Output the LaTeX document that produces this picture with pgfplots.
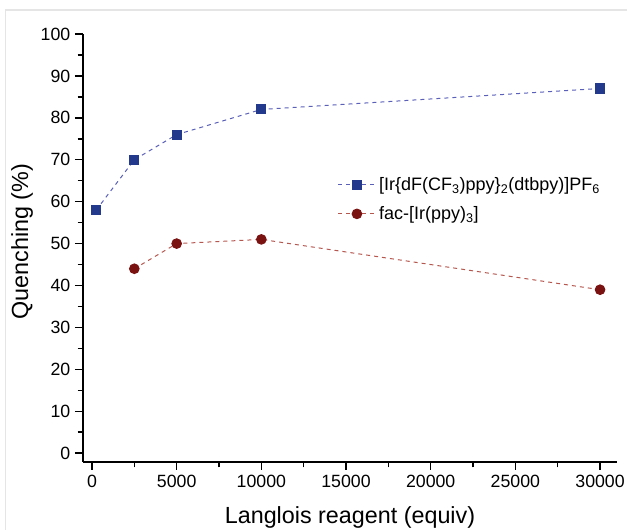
\documentclass[border=0pt]{standalone}
\usepackage{pgfplots}
\pgfplotsset{compat=1.18}
\usepackage{fontspec}
\setmainfont{Liberation Sans}

\definecolor{bluemark}{HTML}{233A8C}
\definecolor{blueline}{HTML}{5A60B8}
\definecolor{redmark}{HTML}{7B1212}
\definecolor{redline}{HTML}{B5574F}

\begin{document}
\begin{tikzpicture}
\path[use as bounding box] (0,0) rectangle (470.25pt,397.5pt);
\begin{axis}[
    at={(62.25pt,51pt)}, anchor=south west,
    scale only axis,
    width=400.5pt, height=321pt,
    xmin=-530, xmax=31000,
    ymin=-2.1, ymax=100,
    axis x line=bottom, axis y line=left,
    axis line style={-, line width=1.5pt},
    xtick={0,5000,...,30000},
    minor xtick={2500,7500,...,27500},
    ytick={0,10,...,100},
    minor ytick={5,15,...,95},
    tick align=outside,
    major tick length=6pt, minor tick length=4pt,
    every tick/.style={black, line width=1.1pt},
    scaled x ticks=false,
    xticklabel style={/pgf/number format/1000 sep={}},
    /pgf/number format/assume math mode=true,
    tick label style={font=\fontsize{13.3}{15}\selectfont},
    xlabel={Langlois reagent (equiv)},
    ylabel={Quenching (\%)},
    label style={font=\fontsize{17.5}{20}\selectfont},
    xlabel style={at={(axis description cs:0.5,-0.1285)}, anchor=center},
    ylabel style={at={(axis description cs:-0.114,0.515)}, anchor=center},
    legend style={draw=none, fill=none, at={(rel axis cs:0.476,0.672)}, anchor=north west,
        font=\fontsize{13.5}{15}\selectfont, row sep=6.5pt, inner sep=0pt},
    legend cell align=left,
    legend image code/.code={
        \draw[mark repeat=2,mark phase=2] plot coordinates {(0cm,0cm) (0.5cm,0cm) (1.0cm,0cm)};
    },
    clip=false,
]
\addplot[blueline, line width=0.75pt, dash pattern=on 3pt off 3pt,
    mark=square*, mark size=3.4pt,
    mark options={solid, fill=bluemark, draw=bluemark}]
coordinates {
    (250,58)
    (2500,70)
    (5000,76)
    (10000,82)
    (30000,87)
};
\addlegendentry{[Ir\{dF(CF\textsubscript{3})ppy\}\textsubscript{2}(dtbpy)]PF\textsubscript{6}}
\addplot[redline, line width=0.75pt, dash pattern=on 3pt off 3pt,
    mark=*, mark size=3.6pt,
    mark options={solid, fill=redmark, draw=redmark}]
coordinates {
    (2500,44)
    (5000,50)
    (10000,51)
    (30000,39)
};
\addlegendentry{fac-[Ir(ppy)\textsubscript{3}]}
\end{axis}
\draw[gray!20, line width=0.8pt] (4.2pt,0) -- (4.2pt,390pt) -- (470.25pt,390pt);
\end{tikzpicture}
\end{document}
